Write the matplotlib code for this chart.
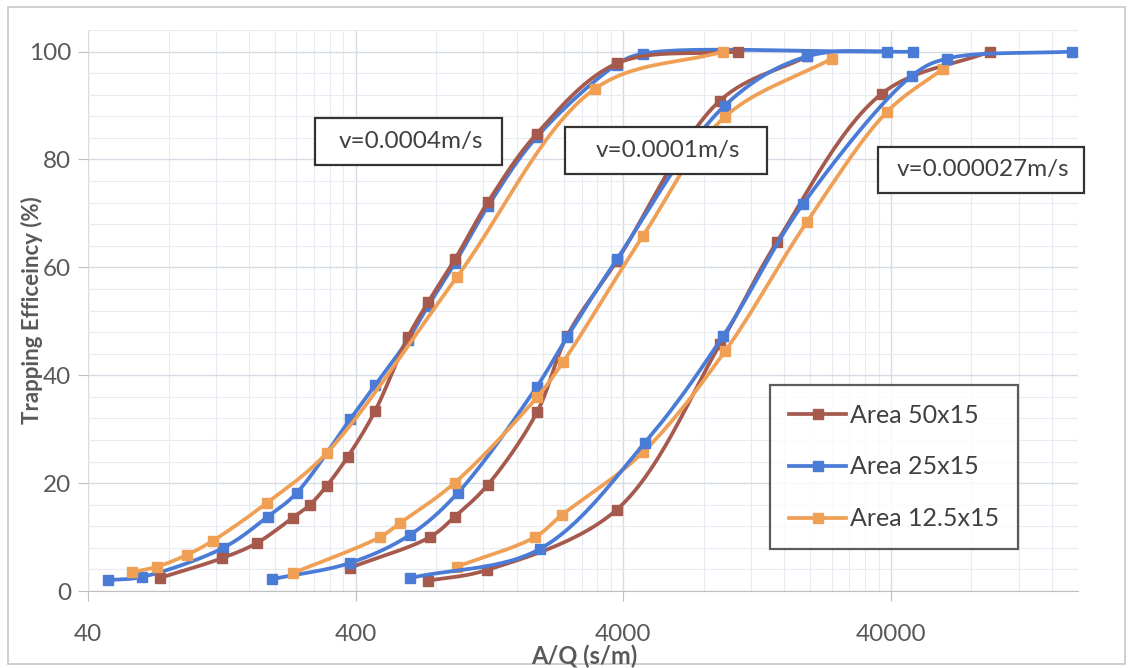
import numpy as np
import matplotlib.pyplot as plt
from matplotlib.ticker import FixedLocator, NullFormatter
from matplotlib.patches import Rectangle

plt.rcParams['font.family'] = ['Lato', 'DejaVu Sans']

# --- data (A/Q in s/m, trapping efficiency in %) ---
# v = 0.0004 m/s
g1_50_x = [74, 127, 171, 233, 270, 312, 374, 472, 626, 745, 940, 1248, 1902, 3786, 10720]
g1_50_y = [2.4, 6.1, 8.9, 13.6, 16.0, 19.5, 24.9, 33.3, 47.0, 53.5, 61.5, 72.1, 84.8, 97.8, 100]
g1_25_x = [47.5, 63.6, 128, 188, 241, 381, 472, 626, 745, 940, 1248, 1902, 3786, 4735, 38620]
g1_25_y = [2.0, 2.6, 8.0, 13.8, 18.2, 31.8, 38.1, 46.5, 52.8, 60.8, 71.3, 84.2, 97.6, 99.6, 100]
g1_12_x = [58.4, 72.4, 93.7, 117, 187, 312, 956, 3133, 9423]
g1_12_y = [3.5, 4.5, 6.7, 9.3, 16.4, 25.6, 58.2, 93.1, 100]

# v = 0.0001 m/s
g2_50_x = [381, 758, 940, 1248, 1902, 2462, 3786, 9184, 19410]
g2_50_y = [4.3, 10.0, 13.8, 19.7, 33.1, 47.2, 61.2, 90.9, 99.1]
g2_25_x = [195, 381, 638, 964, 1902, 2462, 3786, 9585, 19410, 48300]
g2_25_y = [2.2, 5.2, 10.4, 18.2, 37.9, 47.0, 61.5, 90.0, 99.1, 100]
g2_12_x = [233, 493, 586, 940, 1902, 2380, 4735, 9585, 24060]
g2_12_y = [3.3, 10.0, 12.6, 20.1, 35.9, 42.4, 65.8, 87.9, 98.7]

# v = 0.000027 m/s
g3_50_x = [745, 1238, 3786, 9184, 14990, 36990, 93640]
g3_50_y = [1.9, 3.9, 15.1, 45.7, 64.7, 92.2, 100]
g3_25_x = [638, 1952, 4817, 9423, 18750, 47880, 64700, 189600]
g3_25_y = [2.4, 7.8, 27.5, 47.2, 71.7, 95.5, 98.7, 100]
g3_12_x = [956, 1870, 2359, 4735, 9585, 19410, 38620, 62520]
g3_12_y = [4.5, 10.0, 14.1, 25.7, 44.4, 68.4, 88.8, 96.8]

series_names = ['Area 50x15', 'Area 25x15', 'Area 12.5x15']
colors = ['#A65A4E', '#4A7BD6', '#F0A055']
speed_labels = ['v=0.0004m/s', 'v=0.0001m/s', 'v=0.000027m/s']


def smooth(x, y, n=30):
    # centripetal Catmull-Rom through the points, in screen-like (log x, y) space
    sx, sy = 267.7, 5.38
    p = np.column_stack([np.log10(x) * sx, np.asarray(y, float) * sy])
    p = np.vstack([2 * p[0] - p[1], p, 2 * p[-1] - p[-2]])
    out = []
    for i in range(1, len(p) - 2):
        p0, p1, p2, p3 = p[i - 1], p[i], p[i + 1], p[i + 2]
        t0 = 0.0
        t1 = t0 + max(np.linalg.norm(p1 - p0), 1e-6) ** 0.5
        t2 = t1 + max(np.linalg.norm(p2 - p1), 1e-6) ** 0.5
        t3 = t2 + max(np.linalg.norm(p3 - p2), 1e-6) ** 0.5
        t = np.linspace(t1, t2, n)[:, None]
        a1 = (t1 - t) / (t1 - t0) * p0 + (t - t0) / (t1 - t0) * p1
        a2 = (t2 - t) / (t2 - t1) * p1 + (t - t1) / (t2 - t1) * p2
        a3 = (t3 - t) / (t3 - t2) * p2 + (t - t2) / (t3 - t2) * p3
        b1 = (t2 - t) / (t2 - t0) * a1 + (t - t0) / (t2 - t0) * a2
        b2 = (t3 - t) / (t3 - t1) * a2 + (t - t1) / (t3 - t1) * a3
        c = (t2 - t) / (t2 - t1) * b1 + (t - t1) / (t2 - t1) * b2
        out.append(c if i == 1 else c[1:])
    out = np.vstack(out)
    return 10 ** (out[:, 0] / sx), out[:, 1] / sy


fig = plt.figure(figsize=(11.31, 6.68), dpi=100)
ax = fig.add_axes([88 / 1131, 1 - 591 / 668, 990 / 1131, 561 / 668])

groups = [
    [(g1_50_x, g1_50_y), (g1_25_x, g1_25_y), (g1_12_x, g1_12_y)],
    [(g2_50_x, g2_50_y), (g2_25_x, g2_25_y), (g2_12_x, g2_12_y)],
    [(g3_50_x, g3_50_y), (g3_25_x, g3_25_y), (g3_12_x, g3_12_y)],
]
zorders = [[4, 3, 5], [3, 4, 5], [3, 5, 4]]

handles = []
for gi, grp in enumerate(groups):
    for si, (xs, ys) in enumerate(grp):
        sx, sy = smooth(xs, ys)
        z = zorders[gi][si]
        ax.plot(sx, sy, color=colors[si], lw=2.7, zorder=z, solid_capstyle='round')
        ax.plot(xs, ys, 's', color=colors[si], ms=7.5, zorder=z)
        if gi == 0:
            h, = ax.plot([], [], '-s', color=colors[si], lw=2.7, ms=7.5, label=series_names[si])
            handles.append(h)

ax.set_xscale('log')
ax.set_xlim(40, 200000)
ax.set_ylim(0, 104)

ax.xaxis.set_major_locator(FixedLocator([40, 400, 4000, 40000]))
minor_x = [40 * k * 10 ** n for n in range(4) for k in range(2, 10)]
ax.xaxis.set_minor_locator(FixedLocator(minor_x))
ax.xaxis.set_minor_formatter(NullFormatter())
ax.set_xticklabels(['40', '400', '4000', '40000'])
ax.yaxis.set_major_locator(FixedLocator([0, 20, 40, 60, 80, 100]))
ax.yaxis.set_minor_locator(FixedLocator(np.arange(0, 105, 4)))

ax.grid(which='major', color='#D6DCE4', lw=1.0)
ax.grid(which='minor', color='#E8ECF2', lw=0.8)
ax.set_axisbelow(True)

for s in ['top', 'right', 'left']:
    ax.spines[s].set_visible(False)
ax.spines['bottom'].set_color('#BFBFBF')
ax.tick_params(which='major', axis='both', length=7, color='#BFBFBF',
               labelsize=17.5, labelcolor='#595959', pad=5)
ax.tick_params(axis='x', pad=17)
ax.tick_params(which='minor', length=0)

fig.text(32 / 1131, 1 - 310 / 668, 'Trapping Efficeincy (%)', rotation=90,
         ha='center', va='center', fontsize=16, fontweight='bold', color='#595959')
fig.text(584 / 1131, 1 - 656 / 668, 'A/Q (s/m)', ha='center', va='center',
         fontsize=17, fontweight='bold', color='#595959')

# speed annotation boxes
boxes = [(315, 118, 502, 165), (565, 127, 767, 174), (878, 147, 1084, 193)]
for (x0, y0, x1, y1), txt in zip(boxes, speed_labels):
    fig.patches.append(Rectangle((x0 / 1131, 1 - y1 / 668), (x1 - x0) / 1131, (y1 - y0) / 668,
                                 transform=fig.transFigure, facecolor='white',
                                 edgecolor='#333333', lw=1.6, zorder=10))
    fig.text((x0 + x1) / 2 / 1131 + 0.002, 1 - (y0 + y1) / 2 / 668, txt, ha='center', va='center',
             fontsize=17.5, color='#404040', zorder=11)

leg = ax.legend(handles=handles, loc='upper left', bbox_to_anchor=(770 / 1131, 1 - 385 / 668),
                bbox_transform=fig.transFigure, fontsize=18, frameon=True, fancybox=False,
                handlelength=2.3, handletextpad=0.15, labelspacing=1.15, borderpad=0.75,
                borderaxespad=0)
leg.get_frame().set_edgecolor('#333333')
leg.get_frame().set_linewidth(1.6)
for t in leg.get_texts():
    t.set_color('#404040')
leg.set_zorder(12)

# outer chart frame
fig.patches.append(Rectangle((8 / 1131, 4 / 668), 1117 / 1131, 657 / 668, transform=fig.transFigure,
                             facecolor='none', edgecolor='#C8C8C8', lw=1.2))

fig.savefig('out.png', dpi=100)
